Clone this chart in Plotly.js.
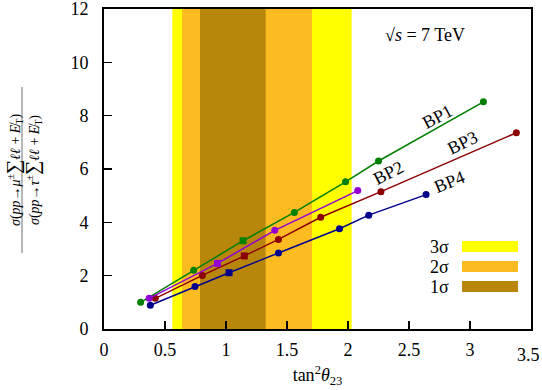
<!DOCTYPE html>
<html><head><meta charset="utf-8">
<script src="https://cdn.plot.ly/plotly-3.0.1.min.js"></script>
<style>body{margin:0;padding:0;background:#fff}#c{width:542px;height:390px}</style>
</head><body><div id="c"></div>
<script>
const bp1X = [0.30, 0.735, 1.14, 1.56, 1.98, 2.25, 3.11];
const bp1Y = [1.00, 2.20, 3.31, 4.37, 5.52, 6.30, 8.52];
const bp1Sym = ['circle','circle','square','circle','circle','circle','circle'];
const bp2X = [0.37, 0.93, 1.40, 2.08];
const bp2Y = [1.15, 2.46, 3.70, 5.19];
const bp2Sym = ['circle','square','circle','circle'];
const bp3X = [0.42, 0.806, 1.15, 1.43, 1.776, 2.27, 3.38];
const bp3Y = [1.15, 2.01, 2.74, 3.36, 4.19, 5.15, 7.36];
const bp3Sym = ['circle','circle','square','circle','circle','circle','circle'];
const bp4X = [0.38, 0.746, 1.025, 1.43, 1.93, 2.17, 2.64];
const bp4Y = [0.89, 1.59, 2.11, 2.85, 3.76, 4.27, 5.04];
const bp4Sym = ['circle','circle','square','circle','circle','circle','circle'];
const xTickVals = [0, 0.5, 1, 1.5, 2, 2.5, 3, 3.5];
const xTickText = ['0', '0.5', '1', '1.5', '2', '2.5', '3', '3.5'];
const bandNames = ['3σ','2σ','1σ'];
const bandLo = [0.56, 0.64, 0.787];
const bandHi = [2.03, 1.705, 1.325];
const bandColors = ['#ffff00','#fdbb22','#b8860b'];

const F = 'Liberation Serif, DejaVu Serif, serif';
function tr(x,y,sym,c){return {x:x,y:y,mode:'lines+markers',type:'scatter',
  line:{color:c,width:1.5},marker:{color:c,size:7,symbol:sym},showlegend:false,hoverinfo:'skip'};}
const data=[tr(bp1X,bp1Y,bp1Sym,'#007f00'),tr(bp3X,bp3Y,bp3Sym,'#8b0000'),
  tr(bp2X,bp2Y,bp2Sym,'#9400d3'),tr(bp4X,bp4Y,bp4Sym,'#00008b')];

const shapes=[];
for(let i=0;i<3;i++){
  shapes.push({type:'rect',xref:'x',yref:'y',x0:bandLo[i],x1:bandHi[i],y0:0,y1:12,
    fillcolor:bandColors[i],line:{width:0},layer:'below'});
  shapes.push({type:'rect',xref:'paper',yref:'paper',x0:(462-104)/427,x1:(518-104)/427,
    y0:(329-252-20*i)/320,y1:(329-241-20*i)/320,fillcolor:bandColors[i],line:{width:0}});
}
shapes.push({type:'line',xref:'paper',yref:'paper',x0:-82/427,x1:-82/427,y0:(329-253)/320,y1:(329-87)/320,
  line:{color:'#888',width:1.2}});
const annotations=[];
for(let i=0;i<3;i++){
  annotations.push({xref:'paper',yref:'paper',x:(451-104)/427,y:(329-246.5-20*i)/320,text:bandNames[i],
    showarrow:false,xanchor:'right',yanchor:'middle',font:{family:F,size:18,color:'#000'}});
}
function lab(t,px,py,ang){return {xref:'paper',yref:'paper',x:(px-104)/427,y:(329-py)/320,text:t,
  showarrow:false,textangle:ang,xanchor:'center',yanchor:'middle',font:{family:F,size:18,color:'#000'}};}
annotations.push(lab('BP1',437,117,-28));
annotations.push(lab('BP3',462,143,-26));
annotations.push(lab('BP2',388,173,-27));
annotations.push(lab('BP4',449,182,-22));
annotations.push(lab('√<i>s</i> = 7 TeV',425,35,0));
// last x tick label is drawn as an annotation kept inside the div (Plotly hides it at the edge)
const lastI = xTickVals.length - 1;
const shownTickText = xTickText.map((t,i)=> i===lastI ? '' : t);
annotations.push({xref:'paper',yref:'paper',x:(542-104)/427,y:-(355-329)/320,text:xTickText[lastI],
  showarrow:false,xanchor:'right',yanchor:'middle',font:{family:F,size:18,color:'#000'}});
annotations.push({xref:'paper',yref:'paper',x:(13-104)/427,y:(329-170)/320,textangle:-90,showarrow:false,
  xanchor:'center',yanchor:'middle',font:{family:F,size:14,color:'#000'},
  text:'<i>σ</i>(<i>pp</i>→<i>μ</i><sup>±</sup><span style="font-size:20px">∑</span><i>ℓℓ</i> + <i>E̸</i><sub>T</sub>)'});
annotations.push({xref:'paper',yref:'paper',x:(32-104)/427,y:(329-170)/320,textangle:-90,showarrow:false,
  xanchor:'center',yanchor:'middle',font:{family:F,size:14,color:'#000'},
  text:'<i>σ</i>(<i>pp</i>→<i>τ</i><sup>±</sup><span style="font-size:20px">∑</span><i>ℓℓ</i> + <i>E̸</i><sub>T</sub>)'});

const layout={width:542,height:390,margin:{l:104,r:11,t:9,b:61},
  paper_bgcolor:'#fff',plot_bgcolor:'rgba(0,0,0,0)',font:{family:F,size:18,color:'#000'},
  xaxis:{range:[0,3.5],tickmode:'array',tickvals:xTickVals,ticktext:shownTickText,ticks:'inside',ticklen:8,tickwidth:1.5,tickcolor:'#000',
    showline:true,linecolor:'#000',linewidth:2,mirror:true,showgrid:false,zeroline:false,ticklabelstandoff:3,
    ticklabeloverflow:'allow',automargin:false,
    tickfont:{family:F,size:18},title:{text:'tan<sup>2</sup><i>θ</i><sub>23</sub>',font:{family:F,size:18},standoff:10}},
  yaxis:{range:[0,12],dtick:2,tick0:0,ticks:'inside',ticklen:8,tickwidth:1.5,tickcolor:'#000',
    showline:true,linecolor:'#000',linewidth:2,mirror:true,showgrid:false,zeroline:false,ticklabelstandoff:10,
    ticklabeloverflow:'allow',automargin:false,
    tickfont:{family:F,size:18}},
  shapes:shapes,annotations:annotations};
Plotly.newPlot('c',data,layout,{staticPlot:true});
</script></body></html>
